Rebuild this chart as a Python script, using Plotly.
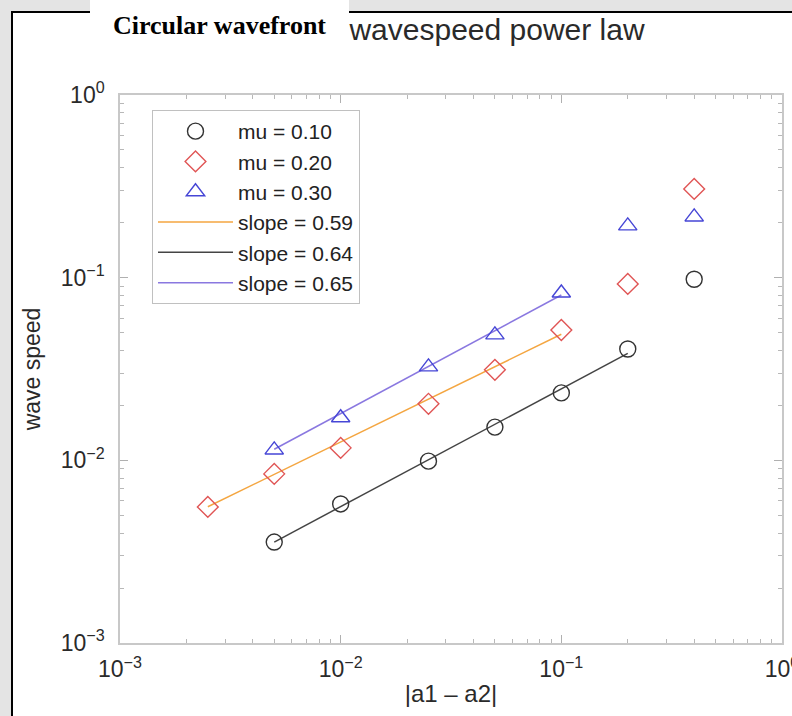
import plotly.graph_objects as go

# ---- data ----
x_mu10 = [0.005, 0.01, 0.025, 0.05, 0.1, 0.2, 0.4]
y_mu10 = [0.00357, 0.00577, 0.0099, 0.0152, 0.0234, 0.0407, 0.098]
x_mu20 = [0.0025, 0.005, 0.01, 0.025, 0.05, 0.1, 0.2, 0.4]
y_mu20 = [0.00556, 0.00843, 0.0117, 0.0204, 0.0313, 0.0517, 0.0924, 0.306]
x_mu30 = [0.005, 0.01, 0.025, 0.05, 0.1, 0.2, 0.4]
y_mu30 = [0.0114, 0.0171, 0.0325, 0.0486, 0.0824, 0.192, 0.215]

fit059_x = [0.0025, 0.1]
fit059_y = [0.00557, 0.049]
fit064_x = [0.005, 0.2]
fit064_y = [0.00357, 0.0385]
fit065_x = [0.005, 0.1]
fit065_y = [0.0115, 0.0804]

tick_vals = [0.001, 0.01, 0.1, 1]
tick_text = ["10<sup>\u22123</sup>", "10<sup>\u22122</sup>", "10<sup>\u22121</sup>", "10<sup>0</sup>"]
minor_vals = [m * d for d in (0.001, 0.01, 0.1) for m in range(2, 10)]

W, H = 792, 716
L, R, T, B = 120, 782, 95, 643
PW, PH = R - L, B - T


def px(x):
    return (x - L) / PW


def py(y):
    return (B - y) / PH


FONT = "Liberation Sans, Arial, Helvetica, sans-serif"

fig = go.Figure()

fig.add_trace(go.Scatter(x=fit059_x, y=fit059_y, mode="lines", name="slope = 0.59",
                         line=dict(color="#f4a641", width=1.5), legendrank=4))
fig.add_trace(go.Scatter(x=fit064_x, y=fit064_y, mode="lines", name="slope = 0.64",
                         line=dict(color="#444444", width=1.5), legendrank=5))
fig.add_trace(go.Scatter(x=fit065_x, y=fit065_y, mode="lines", name="slope = 0.65",
                         line=dict(color="#8a78e0", width=1.5), legendrank=6))

fig.add_trace(go.Scatter(x=x_mu10, y=y_mu10, mode="markers", name="mu = 0.10",
                         marker=dict(symbol="circle-open", size=16, color="#333333",
                                     line=dict(width=1.4)),
                         legendrank=1))
fig.add_trace(go.Scatter(x=x_mu20, y=y_mu20, mode="markers", name="mu = 0.20",
                         marker=dict(symbol="diamond-open", size=16, color="#e05555",
                                     line=dict(width=1.4)),
                         legendrank=2))
fig.add_trace(go.Scatter(x=x_mu30, y=y_mu30, mode="markers", name="mu = 0.30",
                         marker=dict(symbol="triangle-up-open", size=16, color="#4646d6",
                                     line=dict(width=1.4)),
                         legendrank=3))

axis_common = dict(
    type="log",
    automargin=False,
    showgrid=False,
    zeroline=False,
    showline=True,
    linecolor="#c8c8c8",
    linewidth=1.5,
    mirror="ticks",
    ticks="inside",
    ticklen=8,
    tickcolor="#b0b0b0",
    tickmode="array",
    tickvals=tick_vals,
    ticktext=tick_text,
    ticklabeloverflow="allow",
    tickfont=dict(family=FONT, size=23, color="#2a2a2a"),
    minor=dict(tickmode="array", tickvals=minor_vals, ticks="inside", ticklen=4,
               tickcolor="#b8b8b8", showgrid=False),
)

fig.update_xaxes(**axis_common, range=[-3, 0], ticklabelstandoff=5,
                 title=dict(text="|a1 \u2013 a2|", font=dict(family=FONT, size=24, color="#2a2a2a"),
                            standoff=4))
fig.update_yaxes(**axis_common, range=[-3, 0], ticklabelstandoff=9,
                 title=dict(text="wave speed", font=dict(family=FONT, size=23, color="#2a2a2a"),
                            standoff=14))

shapes = [
    dict(type="rect", xref="paper", yref="paper", x0=px(12), x1=px(820), y0=py(740), y1=py(12),
         fillcolor="white", line=dict(color="black", width=2), layer="below"),
    dict(type="rect", xref="paper", yref="paper", x0=px(90), x1=px(349), y0=py(40), y1=py(-5),
         fillcolor="white", line=dict(width=0), layer="below"),
]

annotations = [
    dict(text="<b>Circular wavefront</b>", xref="paper", yref="paper", x=px(219), y=py(26),
         xanchor="center", yanchor="middle", showarrow=False,
         font=dict(family="Liberation Serif, Times New Roman, serif", size=26, color="black")),
]

fig.update_layout(
    width=W, height=H,
    margin=dict(l=L, r=W - R, t=T, b=H - B, autoexpand=False),
    paper_bgcolor="#e4e4e4",
    plot_bgcolor="white",
    title=dict(text="wavespeed power law", x=497 / W, xref="container", xanchor="center",
               y=1 - 29 / H, yref="container", yanchor="middle", automargin=False,
               font=dict(family=FONT, size=30, color="#2a2a2a")),
    shapes=shapes,
    annotations=annotations,
    showlegend=True,
    legend=dict(x=px(152), y=py(110), xanchor="left", yanchor="top",
                bgcolor="white", bordercolor="#c0c0c0", borderwidth=1,
                font=dict(family=FONT, size=21, color="#222222"),
                tracegroupgap=0, itemwidth=75),
)

fig.write_html("out.html")
